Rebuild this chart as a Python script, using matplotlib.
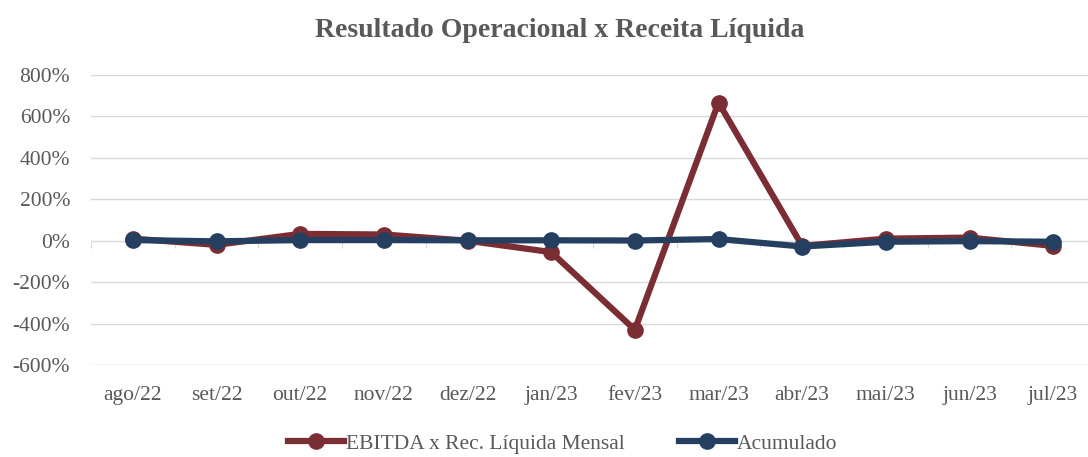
import matplotlib.pyplot as plt

# dados
meses = ['ago/22', 'set/22', 'out/22', 'nov/22', 'dez/22', 'jan/23',
         'fev/23', 'mar/23', 'abr/23', 'mai/23', 'jun/23', 'jul/23']
ebitda_mensal = [10, -20, 33, 30, 0, -55, -430, 667, -25, 10, 15, -25]
acumulado = [3, -3, 3, 3, 2, 2, 1, 8, -28, -5, -2, -5]

cor_texto = '#595959'
cor_grid = '#D9D9D9'
plt.rcParams['font.family'] = ['Liberation Serif', 'DejaVu Serif']

fig = plt.figure(figsize=(10.88, 4.57), dpi=100)
ax = fig.add_axes([91 / 1088, 1 - 365 / 457, (1095 - 91) / 1088, (365 - 75) / 457])

x = list(range(len(meses)))
ax.plot(x, ebitda_mensal, color='#7B2D34', lw=4.5, marker='o', ms=11,
        label='EBITDA x Rec. Líquida Mensal', zorder=3)
ax.plot(x, acumulado, color='#243F60', lw=4.5, marker='o', ms=11,
        label='Acumulado', zorder=4)

ax.set_xlim(-0.5, len(meses) - 0.5)
ax.set_ylim(-600, 800)
ax.set_yticks(range(-600, 801, 200))
ax.set_yticklabels([f'{v}%' for v in range(-600, 801, 200)])
ax.tick_params(axis='y', length=0, pad=15, labelsize=15.5, labelcolor=cor_texto)
ax.grid(axis='y', color=cor_grid, lw=1)
ax.set_axisbelow(True)

for s in ['top', 'right', 'left']:
    ax.spines[s].set_visible(False)
# eixo x no zero, com marcas entre as categorias
ax.spines['bottom'].set_position(('data', 0))
ax.spines['bottom'].set_color(cor_grid)
ax.set_xticks([i - 0.5 for i in range(len(meses) + 1)])
ax.tick_params(axis='x', length=5, color=cor_grid, labelbottom=False)

sec = ax.secondary_xaxis('bottom')
sec.set_xticks(x)
sec.set_xticklabels(meses)
sec.tick_params(length=0, pad=15, labelsize=15.5, labelcolor=cor_texto)
sec.spines['bottom'].set_visible(False)

fig.suptitle('Resultado Operacional x Receita Líquida', x=0.514, y=0.96,
             fontsize=20, fontweight='bold', color=cor_texto)

leg = fig.legend(loc='lower center', bbox_to_anchor=(0.517, -0.035), ncol=2,
                 frameon=False, fontsize=15.5, handlelength=2.6, columnspacing=2.5,
                 handletextpad=0.1)
for t in leg.get_texts():
    t.set_color(cor_texto)

plt.savefig('out.png', dpi=100)
